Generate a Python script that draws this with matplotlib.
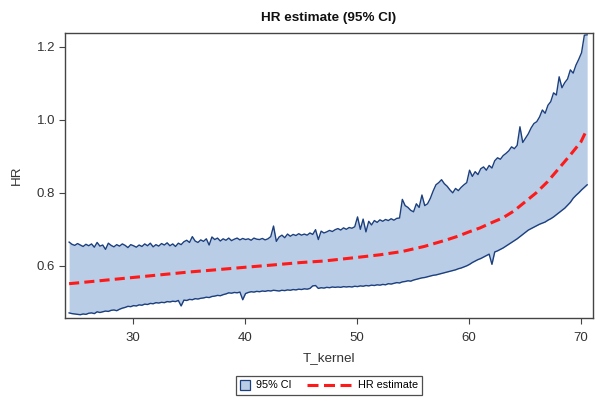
import matplotlib
matplotlib.use("Agg")
import matplotlib.pyplot as plt
from matplotlib.lines import Line2D
from matplotlib.legend_handler import HandlerLine2D

plt.rcParams['font.family'] = ['Liberation Sans', 'DejaVu Sans']

# kernel grid and pointwise 95% CI bounds
t_kernel = [24.3, 24.55, 24.8, 25.05, 25.3, 25.55, 25.8, 26.05,
            26.3, 26.55, 26.8, 27.05, 27.3, 27.55, 27.8, 28.05,
            28.3, 28.55, 28.8, 29.05, 29.3, 29.55, 29.8, 30.05,
            30.3, 30.55, 30.8, 31.05, 31.3, 31.55, 31.8, 32.05,
            32.3, 32.55, 32.8, 33.05, 33.3, 33.55, 33.8, 34.05,
            34.3, 34.55, 34.8, 35.05, 35.3, 35.55, 35.8, 36.05,
            36.3, 36.55, 36.8, 37.05, 37.3, 37.55, 37.8, 38.05,
            38.3, 38.55, 38.8, 39.05, 39.3, 39.55, 39.8, 40.05,
            40.3, 40.55, 40.8, 41.05, 41.3, 41.55, 41.8, 42.05,
            42.3, 42.55, 42.8, 43.05, 43.3, 43.55, 43.8, 44.05,
            44.3, 44.55, 44.8, 45.05, 45.3, 45.55, 45.8, 46.05,
            46.3, 46.55, 46.8, 47.05, 47.3, 47.55, 47.8, 48.05,
            48.3, 48.55, 48.8, 49.05, 49.3, 49.55, 49.8, 50.05,
            50.3, 50.55, 50.8, 51.05, 51.3, 51.55, 51.8, 52.05,
            52.3, 52.55, 52.8, 53.05, 53.3, 53.55, 53.8, 54.05,
            54.3, 54.55, 54.8, 55.05, 55.3, 55.55, 55.8, 56.05,
            56.3, 56.55, 56.8, 57.05, 57.3, 57.55, 57.8, 58.05,
            58.3, 58.55, 58.8, 59.05, 59.3, 59.55, 59.8, 60.05,
            60.3, 60.55, 60.8, 61.05, 61.3, 61.55, 61.8, 62.05,
            62.3, 62.55, 62.8, 63.05, 63.3, 63.55, 63.8, 64.05,
            64.3, 64.55, 64.8, 65.05, 65.3, 65.55, 65.8, 66.05,
            66.3, 66.55, 66.8, 67.05, 67.3, 67.55, 67.8, 68.05,
            68.3, 68.55, 68.8, 69.05, 69.3, 69.55, 69.8, 70.05,
            70.3, 70.55]

upper_ci = [0.665, 0.659, 0.656, 0.661, 0.657, 0.653, 0.659, 0.655,
            0.660, 0.651, 0.664, 0.654, 0.657, 0.645, 0.662, 0.656,
            0.652, 0.658, 0.654, 0.660, 0.656, 0.650, 0.658, 0.655,
            0.651, 0.657, 0.653, 0.660, 0.655, 0.662, 0.652, 0.658,
            0.654, 0.661, 0.657, 0.663, 0.655, 0.660, 0.653, 0.662,
            0.658, 0.666, 0.670, 0.664, 0.680, 0.668, 0.664, 0.671,
            0.667, 0.674, 0.657, 0.679, 0.672, 0.676, 0.668, 0.674,
            0.670, 0.676, 0.669, 0.673, 0.676, 0.671, 0.675, 0.672,
            0.674, 0.670, 0.676, 0.673, 0.672, 0.675, 0.671, 0.674,
            0.680, 0.709, 0.667, 0.679, 0.684, 0.677, 0.687, 0.681,
            0.686, 0.683, 0.688, 0.684, 0.687, 0.684, 0.690, 0.686,
            0.699, 0.672, 0.695, 0.690, 0.693, 0.697, 0.694, 0.699,
            0.702, 0.698, 0.704, 0.700, 0.705, 0.703, 0.707, 0.734,
            0.700, 0.728, 0.693, 0.722, 0.712, 0.724, 0.719, 0.726,
            0.722, 0.727, 0.724, 0.729, 0.725, 0.730, 0.731, 0.782,
            0.765, 0.760, 0.752, 0.748, 0.770, 0.760, 0.794, 0.765,
            0.770, 0.785, 0.805, 0.822, 0.828, 0.836, 0.825, 0.818,
            0.808, 0.800, 0.812, 0.806, 0.815, 0.822, 0.828, 0.862,
            0.845, 0.858, 0.850, 0.866, 0.871, 0.862, 0.875, 0.868,
            0.888, 0.896, 0.892, 0.902, 0.908, 0.915, 0.926, 0.921,
            0.930, 0.981, 0.938, 0.950, 0.962, 0.978, 0.990, 0.995,
            1.008, 1.027, 1.018, 1.040, 1.050, 1.074, 1.068, 1.118,
            1.088, 1.102, 1.112, 1.137, 1.128, 1.150, 1.166, 1.184,
            1.232, 1.233]

lower_ci = [0.471, 0.469, 0.468, 0.467, 0.466, 0.468, 0.467, 0.470,
            0.471, 0.469, 0.474, 0.472, 0.474, 0.476, 0.475, 0.478,
            0.479, 0.477, 0.481, 0.484, 0.486, 0.489, 0.488, 0.491,
            0.490, 0.493, 0.492, 0.495, 0.494, 0.497, 0.496, 0.499,
            0.498, 0.500, 0.499, 0.502, 0.501, 0.503, 0.502, 0.505,
            0.490, 0.506, 0.505, 0.508, 0.507, 0.510, 0.509, 0.511,
            0.512, 0.514, 0.513, 0.516, 0.517, 0.519, 0.518, 0.521,
            0.523, 0.526, 0.525, 0.527, 0.526, 0.528, 0.507, 0.524,
            0.527, 0.529, 0.528, 0.530, 0.529, 0.531, 0.530, 0.532,
            0.531, 0.533, 0.532, 0.531, 0.533, 0.532, 0.534, 0.533,
            0.535, 0.534, 0.536, 0.535, 0.537, 0.536, 0.538, 0.545,
            0.546, 0.538, 0.540, 0.539, 0.541, 0.540, 0.542, 0.541,
            0.542, 0.541, 0.543, 0.542, 0.543, 0.542, 0.544, 0.543,
            0.545, 0.544, 0.546, 0.545, 0.547, 0.546, 0.548, 0.547,
            0.549, 0.548, 0.551, 0.550, 0.552, 0.554, 0.553, 0.556,
            0.557, 0.559, 0.558, 0.561, 0.563, 0.565, 0.567, 0.568,
            0.570, 0.572, 0.574, 0.575, 0.577, 0.579, 0.581, 0.583,
            0.585, 0.587, 0.589, 0.592, 0.594, 0.597, 0.600, 0.604,
            0.609, 0.613, 0.617, 0.620, 0.624, 0.628, 0.632, 0.604,
            0.638, 0.641, 0.645, 0.649, 0.654, 0.659, 0.664, 0.669,
            0.674, 0.680, 0.686, 0.692, 0.698, 0.702, 0.706, 0.710,
            0.714, 0.717, 0.720, 0.725, 0.729, 0.734, 0.740, 0.746,
            0.752, 0.758, 0.766, 0.774, 0.785, 0.793, 0.800, 0.808,
            0.815, 0.822]

# smoothed hazard ratio estimate
t_est = [24.3, 25, 27, 30, 32, 35, 37, 40, 42, 45, 47, 50, 52, 54, 55, 56,
         57, 58, 59, 60, 61, 62, 63, 64, 65, 66, 67, 68, 69, 70, 70.55]
hr_est = [0.551, 0.553, 0.559, 0.568, 0.574, 0.583, 0.588, 0.596, 0.601, 0.609,
          0.613, 0.623, 0.630, 0.639, 0.646, 0.653, 0.662, 0.671, 0.681, 0.693,
          0.704, 0.718, 0.731, 0.750, 0.775, 0.800, 0.830, 0.866, 0.902, 0.940, 0.975]

x_ticks = [30, 40, 50, 60, 70]
y_ticks = [0.6, 0.8, 1.0, 1.2]

band_fill = '#B9CDE6'
band_edge = '#1C3F7E'
est_color = '#FF1A1A'
text_color = '#333333'
est_dashes = [3.3, 1.7]
key_dashes = [3.6, 1.8]   # three whole dashes in the legend sample


class LongLineHandler(HandlerLine2D):
    # dashed sample that reaches further left than the handle box
    def create_artists(self, legend, orig_handle, xdescent, ydescent,
                       width, height, fontsize, trans):
        y = (height - ydescent) / 2.0
        ln = Line2D([-xdescent + width - 31.7, -xdescent + width], [y, y],
                    color=orig_handle.get_color(),
                    linewidth=orig_handle.get_linewidth(),
                    dashes=key_dashes)
        ln.set_transform(trans)
        return [ln]


fig = plt.figure(figsize=(5.95, 4.01), dpi=100)
ax = fig.add_axes([0.1092, 0.2070, 0.8874, 0.7107])

ax.fill_between(t_kernel, lower_ci, upper_ci, color=band_fill, linewidth=0)
ax.plot(t_kernel, upper_ci, color=band_edge, linewidth=1.0)
ax.plot(t_kernel, lower_ci, color=band_edge, linewidth=1.0)
est_line, = ax.plot(t_est, hr_est, color=est_color, linewidth=2.2)
est_line.set_dashes(est_dashes)

ax.set_xlim(23.93, 71.07)
ax.set_ylim(0.457, 1.238)
ax.set_xticks(x_ticks)
ax.set_yticks(y_ticks)
ax.set_yticklabels(['%.1f' % v for v in y_ticks])
ax.tick_params(direction='out', length=4, width=0.8, colors='#444444',
               labelsize=9.5, labelcolor=text_color)
ax.tick_params(axis='x', pad=6)
ax.tick_params(axis='y', pad=3)
for s in ax.spines.values():
    s.set_color('#444444')
    s.set_linewidth(1.0)

ax.set_xlabel('T_kernel', fontsize=9.7, color=text_color, labelpad=6)
ax.set_ylabel('HR', fontsize=9.7, color=text_color, labelpad=10)
fig.text(0.553, 0.955, 'HR estimate (95% CI)', ha='center', va='center',
         fontsize=9.7, fontweight='bold', color='#111111')

sq_handle = Line2D([0], [0], linestyle='none', marker='s', markersize=7,
                   markerfacecolor=band_fill, markeredgecolor=band_edge,
                   markeredgewidth=0.9)
dash_handle = Line2D([0], [0], color=est_color, linewidth=2.2)
leg = fig.legend([sq_handle, dash_handle], ['95% CI', 'HR estimate'], ncol=2,
                 loc='center', bbox_to_anchor=(0.553, 0.0387),
                 fontsize=7.8, frameon=True, fancybox=False,
                 handlelength=0.9, columnspacing=4.6,
                 handletextpad=0.6, borderpad=0.4,
                 handler_map={dash_handle: LongLineHandler()})
leg.get_frame().set_edgecolor('#222222')
leg.get_frame().set_linewidth(0.9)

fig.savefig('out.png', dpi=100, facecolor='white')
